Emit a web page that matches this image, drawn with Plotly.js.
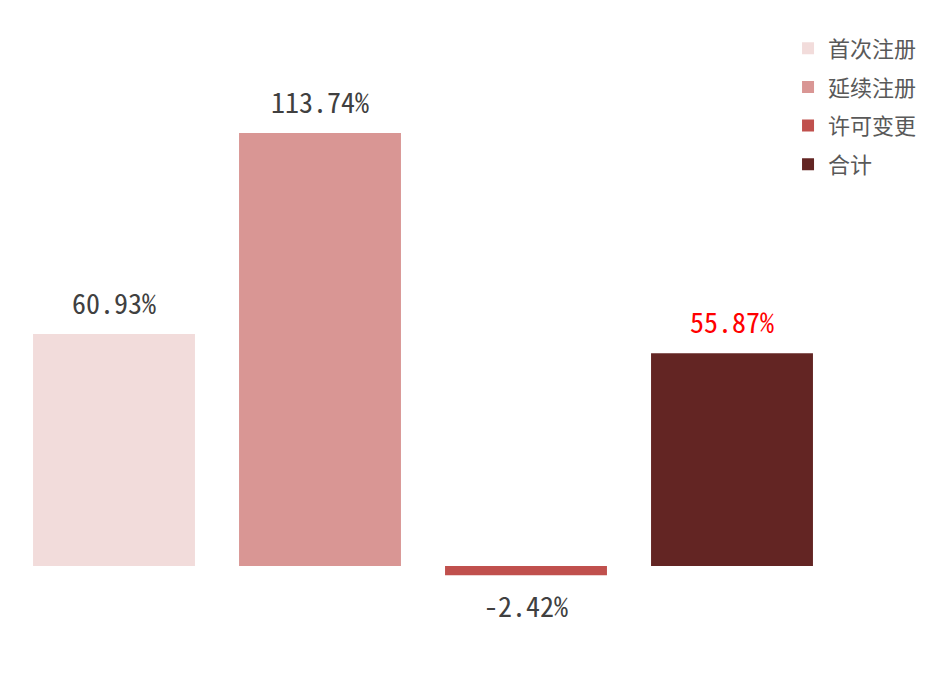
<!DOCTYPE html>
<html>
<head>
<meta charset="utf-8">
<script src="https://cdn.plot.ly/plotly-3.0.1.min.js"></script>
<style>body{margin:0;padding:0;background:#fff;}#chart{width:944px;height:676px;}</style>
</head>
<body>
<div id="chart"></div>
<script>
const categories = ["首次注册", "延续注册", "许可变更", "合计"];
const values = [60.93, 113.74, -2.42, 55.87];
const labels = ["60.93%", "113.74%", "-2.42%", "55.87%"];
const colors = ["#F2DCDB", "#D99694", "#C0504D", "#632523"];
const labelColors = ["#404040", "#404040", "#404040", "#FF0000"];

const traces = categories.map((c, i) => ({
  type: "bar",
  name: c,
  x: [c],
  y: [values[i]],
  width: 0.786,
  marker: {color: colors[i]},
  legendgroup: "g" + i,
  hoverinfo: "none"
}));

const annotations = categories.map((c, i) => ({
  x: c,
  y: values[i],
  xref: "x",
  yref: "y",
  text: labels[i],
  showarrow: false,
  yanchor: values[i] >= 0 ? "bottom" : "top",
  yshift: values[i] >= 0 ? 10 : -8,
  font: {family: "Noto Sans Mono CJK SC, Noto Sans CJK SC, monospace", size: 28, color: labelColors[i]}
}));

const layout = {
  width: 944,
  height: 676,
  margin: {l: 11, r: 109, t: 20, b: 26},
  paper_bgcolor: "#ffffff",
  plot_bgcolor: "#ffffff",
  barmode: "overlay",
  showlegend: true,
  legend: {
    x: 0.943, xanchor: "left", y: 0.988, yanchor: "top",
    font: {family: "Noto Sans CJK SC", size: 22, color: "#595959"},
    traceorder: "grouped",
    tracegroupgap: 7,
    itemwidth: 30,
    bgcolor: "rgba(0,0,0,0)"
  },
  xaxis: {
    categoryorder: "array", categoryarray: categories,
    range: [-0.5, 3.5],
    showticklabels: false, showgrid: false, zeroline: false, showline: false, ticks: ""
  },
  yaxis: {
    range: [-22.06, 143.42],
    showticklabels: false, showgrid: false, zeroline: false, showline: false, ticks: ""
  },
  annotations: annotations
};

Plotly.newPlot("chart", traces, layout, {displayModeBar: false, staticPlot: true});
</script>
</body>
</html>
